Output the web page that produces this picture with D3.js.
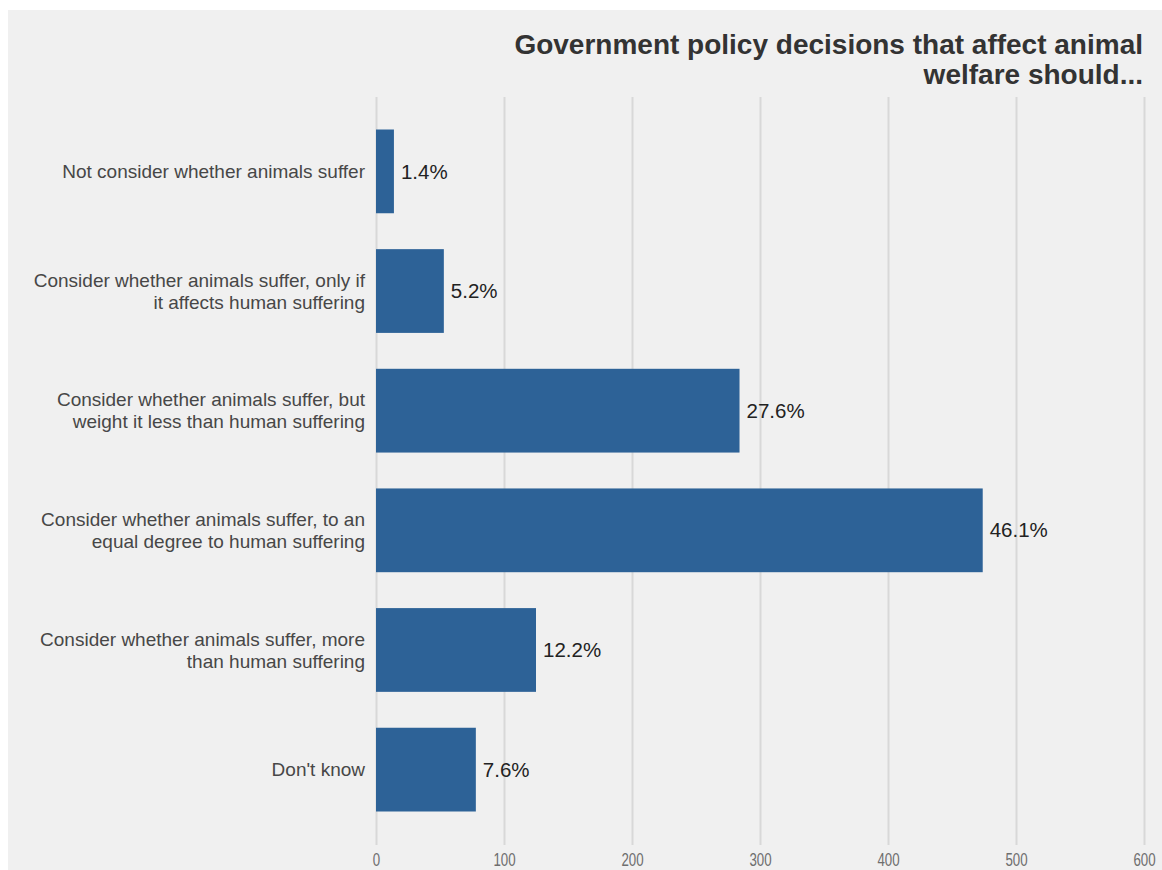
<!DOCTYPE html>
<html>
<head>
<meta charset="utf-8">
<script src="https://cdn.jsdelivr.net/npm/d3@7"></script>
<style>
  body { margin: 0; background: #fff; }
  svg { display: block; font-family: "Liberation Sans", Arial, sans-serif; }
</style>
</head>
<body>
<svg width="1162" height="870"></svg>
<script>
const categories = [
  "Not consider whether animals suffer",
  "Consider whether animals suffer, only if\nit affects human suffering",
  "Consider whether animals suffer, but\nweight it less than human suffering",
  "Consider whether animals suffer, to an\nequal degree to human suffering",
  "Consider whether animals suffer, more\nthan human suffering",
  "Don't know"
];
const counts = [14, 53, 284, 474, 125, 78];
const xTicks = [0, 100, 200, 300, 400, 500, 600];
const titleLines = ["Government policy decisions that affect animal", "welfare should..."];

const svg = d3.select("svg");
const width = +svg.attr("width");
const height = +svg.attr("height");

const plotLeft = 376, plotRight = 1144, plotTop = 96, plotBottom = 845;
const total = d3.sum(counts);
const data = categories.map((c, i) => ({ category: c, count: counts[i] }));

// panel background
svg.append("rect")
  .attr("x", 8).attr("y", 10)
  .attr("width", width - 8).attr("height", height - 10)
  .attr("fill", "#f0f0f0");

const xScale = d3.scaleLinear().domain([0, 600]).range([plotLeft, plotRight]);
const yScale = d3.scaleBand()
  .domain(categories)
  .range([plotTop, plotBottom])
  .paddingInner(0.3)
  .paddingOuter(0.28);

const xAxis = d3.axisBottom(xScale)
  .tickValues(xTicks)
  .tickSize(-(plotBottom - plotTop - 1))
  .tickPadding(8);

const xAxisG = svg.append("g")
  .attr("transform", `translate(0,${plotBottom})`)
  .call(xAxis);
xAxisG.select(".domain").remove();
xAxisG.selectAll(".tick line")
  .attr("stroke", "#d8d8d8")
  .attr("stroke-width", 2);
// tick labels in the reference are narrow, squeeze them horizontally
xAxisG.selectAll(".tick text")
  .attr("fill", "#6e6e6e")
  .attr("transform", "scale(0.7,1)")
  .style("font-size", "19px")
  .style("font-family", "'Liberation Sans', Arial, sans-serif");

// bars
svg.selectAll("rect.bar")
  .data(data)
  .join("rect")
  .attr("class", "bar")
  .attr("x", xScale(0))
  .attr("y", (d) => yScale(d.category))
  .attr("width", (d) => xScale(d.count) - xScale(0))
  .attr("height", yScale.bandwidth())
  .attr("fill", "#2d6297");

// value labels
const pct = d3.format(".1%");
svg.selectAll("text.value")
  .data(data)
  .join("text")
  .attr("class", "value")
  .attr("x", (d) => xScale(d.count) + 7)
  .attr("y", (d) => yScale(d.category) + yScale.bandwidth() / 2)
  .attr("dy", "0.35em")
  .attr("fill", "#222")
  .style("font-size", "20.5px")
  .text((d) => pct(d.count / total));

// category labels
const catG = svg.selectAll("text.cat")
  .data(data)
  .join("text")
  .attr("class", "cat")
  .attr("text-anchor", "end")
  .attr("fill", "#474747")
  .style("font-size", "19px");
catG.each(function (d) {
  const lines = d.category.split("\n");
  const cy = yScale(d.category) + yScale.bandwidth() / 2;
  const lh = 22;
  d3.select(this).selectAll("tspan")
    .data(lines)
    .join("tspan")
    .attr("x", 365)
    .attr("y", (l, i) => cy + (i - (lines.length - 1) / 2) * lh)
    .attr("dy", "0.35em")
    .text((l) => l);
});

// title
svg.append("text")
  .attr("text-anchor", "end")
  .attr("fill", "#333")
  .style("font-size", "28px")
  .style("font-weight", "bold")
  .selectAll("tspan")
  .data(titleLines)
  .join("tspan")
  .attr("x", 1143)
  .attr("y", (d, i) => 54 + i * 30)
  .text((d) => d);
</script>
</body>
</html>
